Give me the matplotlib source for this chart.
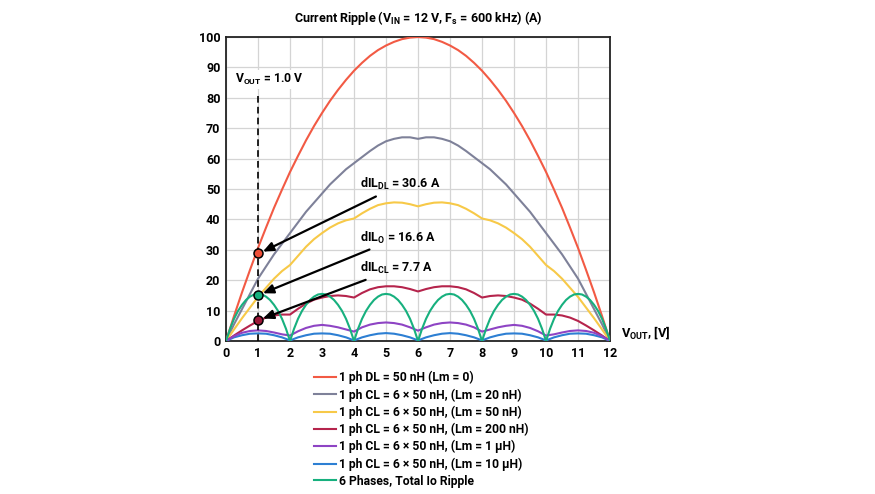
import numpy as np
import matplotlib
matplotlib.use('Agg')
import matplotlib.pyplot as plt

plt.rcParams['font.family'] = ['Roboto', 'DejaVu Sans']
plt.rcParams['font.weight'] = 'bold'
plt.rcParams['mathtext.fontset'] = 'custom'
plt.rcParams['mathtext.rm'] = 'Roboto:bold'
plt.rcParams['mathtext.it'] = 'Roboto:bold'
plt.rcParams['mathtext.bf'] = 'Roboto:bold'

################################ data ################################

vout = [0, 0.25, 0.5, 0.75, 1, 1.25, 1.5, 1.75, 2, 2.25, 2.5, 2.75, 3, 3.25, 3.5, 3.75, 4,
	4.25, 4.5, 4.75, 5, 5.25, 5.5, 5.75, 6, 6.25, 6.5, 6.75, 7, 7.25, 7.5, 7.75, 8,
	8.25, 8.5, 8.75, 9, 9.25, 9.5, 9.75, 10, 10.25, 10.5, 10.75, 11, 11.25, 11.5, 11.75, 12]

dl_0 = [0, 8.2, 16, 23.4, 30.6, 37.3, 43.8, 49.8, 55.6, 60.9, 66, 70.7, 75, 79, 82.6, 85.9, 88.9,
	91.5, 93.8, 95.7, 97.2, 98.4, 99.3, 99.8, 100, 99.8, 99.3, 98.4, 97.2, 95.7, 93.8, 91.5, 88.9,
	85.9, 82.6, 79, 75, 70.7, 66, 60.9, 55.6, 49.8, 43.8, 37.3, 30.6, 23.4, 16, 8.2, 0]

cl_20n = [0, 5.5, 10.5, 15.5, 20.5, 24.5, 28.5, 32, 35.5, 39, 42.5, 45.5, 48.5, 51.5, 54, 56.5, 58.5,
	60.5, 62.5, 64.3, 65.7, 66.5, 67, 67, 66.5, 67, 67, 66.5, 65.7, 64.3, 62.5, 60.5, 58.5,
	56.5, 54, 51.5, 48.5, 45.5, 42.5, 39, 35.5, 32, 28.5, 24.5, 20.5, 15.5, 10.5, 5.5, 0]

cl_50n = [0, 3.8, 7.5, 11, 14.5, 17.5, 20.5, 23, 25, 28, 31, 33.5, 35.5, 37.3, 38.7, 39.7, 40.3,
	42, 43.5, 44.7, 45.3, 45.6, 45.5, 45, 44.3, 45, 45.5, 45.6, 45.3, 44.7, 43.5, 42, 40.3,
	39.7, 38.7, 37.3, 35.5, 33.5, 31, 28, 25, 23, 20.5, 17.5, 14.5, 11, 7.5, 3.8, 0]

cl_200n = [0, 1.8, 3.5, 5.1, 6.6, 7.7, 8.4, 8.7, 8.7, 10.6, 12.3, 13.6, 14.3, 14.8, 15, 14.8, 14.3,
	15.8, 17, 17.7, 18, 18, 17.7, 17.1, 16.3, 17.1, 17.7, 18, 18, 17.7, 17, 15.8, 14.3,
	14.8, 15, 14.8, 14.3, 13.6, 12.3, 10.6, 8.7, 8.7, 8.4, 7.7, 6.6, 5.1, 3.5, 1.8, 0]

cl_1u = [0, 1.6, 2.7, 3.3, 3.5, 3.3, 2.8, 2.2, 1.8, 3.2, 4.3, 5, 5.3, 5, 4.5, 3.8, 3.1,
	4.5, 5.4, 5.9, 6.1, 5.9, 5.4, 4.5, 3.4, 4.5, 5.4, 5.9, 6.1, 5.9, 5.4, 4.5, 3.1,
	3.8, 4.5, 5, 5.3, 5, 4.3, 3.2, 1.8, 2.2, 2.8, 3.3, 3.5, 3.3, 2.7, 1.6, 0]

cl_10u = [0, 1.2, 1.9, 2.4, 2.5, 2.4, 1.9, 1.2, 0.2, 1.2, 1.9, 2.4, 2.5, 2.4, 1.9, 1.2, 0.2,
	1.2, 1.9, 2.4, 2.6, 2.4, 1.9, 1.2, 0.2, 1.2, 1.9, 2.4, 2.6, 2.4, 1.9, 1.2, 0.2,
	1.2, 1.9, 2.4, 2.5, 2.4, 1.9, 1.2, 0.2, 1.2, 1.9, 2.4, 2.5, 2.4, 1.9, 1.2, 0]

# total ripple arches read on a finer step (0.125 V)
vout_fine = [i / 8 for i in range(97)]
total_6ph = [0, 4, 7.3, 9.9, 11.9, 13.5, 14.6, 15.3, 15.5, 15.3, 14.6, 13.5, 11.9, 9.9, 7.3, 4,
	0, 4, 7.3, 9.9, 11.9, 13.5, 14.6, 15.3, 15.5, 15.3, 14.6, 13.5, 11.9, 9.9, 7.3, 4,
	0, 4, 7.3, 9.9, 11.9, 13.5, 14.6, 15.3, 15.5, 15.3, 14.6, 13.5, 11.9, 9.9, 7.3, 4,
	0, 4, 7.3, 9.9, 11.9, 13.5, 14.6, 15.3, 15.5, 15.3, 14.6, 13.5, 11.9, 9.9, 7.3, 4,
	0, 4, 7.3, 9.9, 11.9, 13.5, 14.6, 15.3, 15.5, 15.3, 14.6, 13.5, 11.9, 9.9, 7.3, 4,
	0, 4, 7.3, 9.9, 11.9, 13.5, 14.6, 15.3, 15.5, 15.3, 14.6, 13.5, 11.9, 9.9, 7.3, 4, 0]

labels = ['1 ph DL = 50 nH (Lm = 0)',
	'1 ph CL = 6 × 50 nH, (Lm = 20 nH)',
	'1 ph CL = 6 × 50 nH, (Lm = 50 nH)',
	'1 ph CL = 6 × 50 nH, (Lm = 200 nH)',
	'1 ph CL = 6 × 50 nH, (Lm = 1 µH)',
	'1 ph CL = 6 × 50 nH, (Lm = 10 µH)',
	'6 Phases, Total Io Ripple']
colors = ['#f25a44', '#7e8199', '#f7c948', '#b5244c', '#8e44c4', '#2d7fd3', '#17b07e']

# points marked at VOUT = 1 V
mark_y = [28.8, 15.1, 6.8]
mark_colors = ['#ef4f38', '#17b07e', '#9c1838']
notes = [r'dIL$_{\rm DL}$ = 30.6 A', r'dIL$_{\rm O}$ = 16.6 A', r'dIL$_{\rm CL}$ = 7.7 A']
note_y = [51.5, 34, 24]

################################ plot ################################

fig = plt.figure(figsize=(8.75, 4.94), dpi=100)
ax = fig.add_axes([0.2583, 0.3097, 0.4389, 0.6154])

series = [dl_0, cl_20n, cl_50n, cl_200n, cl_1u, cl_10u, total_6ph]
order = [0, 1, 2, 3, 5, 4, 6]
lines = {}
for i in order:
	xs = vout_fine if i == 6 else vout
	ln, = ax.plot(xs, series[i], color=colors[i], lw=1.5, label=labels[i], zorder=3)
	lines[i] = ln

ax.set_xlim(0, 12)
ax.set_ylim(0, 100)
ax.set_xticks(range(13))
ax.set_yticks(range(0, 101, 10))
ax.grid(color='#d4d4d4', lw=0.9, zorder=0)
ax.tick_params(length=0, labelsize=9, pad=4)
for s in ax.spines.values():
	s.set_linewidth(1.3)
	s.set_color('#222222')

# dashed line at VOUT = 1 V
ax.plot([1, 1], [0, 81], ls=(0, (4, 2.5)), color='black', lw=1.2, zorder=4)
ax.text(0.28, 83.5, r'V$_{\rm OUT}$ = 1.0 V', fontsize=8.7, fontweight='bold',
	va='bottom', ha='left', zorder=5, bbox=dict(fc='white', ec='none', pad=1.5))

for j in range(3):
	ax.scatter([1], [mark_y[j]], s=42, color=mark_colors[j], edgecolor='black', lw=1.1, zorder=6)
	ax.annotate(notes[j], xy=(1.15, mark_y[j] + 0.6), xytext=(4.2, note_y[j]),
		fontsize=9, fontweight='bold', va='center', ha='left', zorder=7,
		arrowprops=dict(arrowstyle='-|>,head_length=0.7,head_width=0.3', color='black', lw=1.6,
			shrinkA=2, shrinkB=0))

ax.set_title(r'Current Ripple (V$_{\rm IN}$ = 12 V, F$_{\rm s}$ = 600 kHz) (A)',
	fontsize=9, fontweight='bold', pad=11)
ax.text(12.35, 0, r'V$_{\rm OUT}$, [V]', fontsize=9.3, fontweight='bold', va='bottom', ha='left')

handles = [lines[i] for i in range(7)]
fig.legend(handles, labels, loc='upper left', bbox_to_anchor=(0.352, 0.261), frameon=False,
	fontsize=8.7, handlelength=1.82, handletextpad=0.25, labelspacing=0.33, borderpad=0)

fig.savefig('out.png', dpi=100)
